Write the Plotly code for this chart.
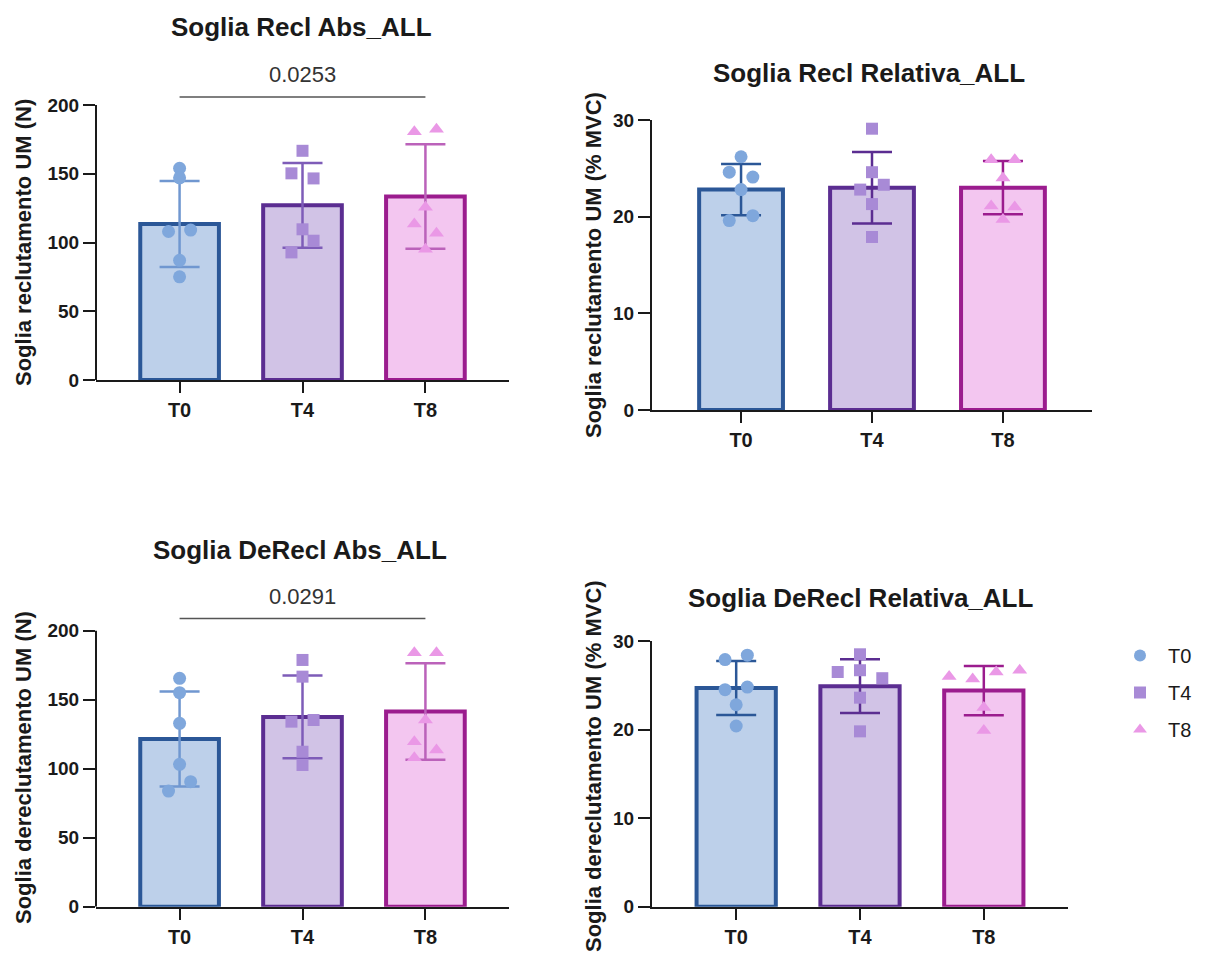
import plotly.graph_objects as go

# ---------------- data ----------------
groups = ["T0", "T4", "T8"]

titles = ["Soglia Recl Abs_ALL", "Soglia Recl Relativa_ALL",
          "Soglia DeRecl Abs_ALL", "Soglia DeRecl Relativa_ALL"]
ytitles = ["Soglia reclutamento UM (N)", "Soglia reclutamento UM (% MVC)",
           "Soglia dereclutamento UM (N)", "Soglia dereclutamento UM (% MVC)"]

# panel 1: Recl Abs
p1_mean = [113.5, 127.0, 133.5]
p1_sd = [31.3, 30.8, 38.0]
p1_T0 = [154, 147, 108, 109, 87, 75]
p1_T4 = [166.7, 150.3, 146.6, 109.6, 101.3, 92.8]
p1_T8 = [180.6, 182.3, 125.6, 113.5, 106.7, 95]
p1_p = "0.0253"

# panel 2: Recl Relativa
p2_mean = [22.8, 23.0, 23.0]
p2_sd = [2.65, 3.7, 2.75]
p2_T0 = [26.2, 24.6, 24.1, 22.8, 19.6, 20.1]
p2_T4 = [29.1, 24.6, 22.8, 23.3, 21.3, 17.9]
p2_T8 = [25.9, 25.9, 24.0, 21.1, 21.0, 19.7]

# panel 3: DeRecl Abs
p3_mean = [121.5, 137.5, 141.5]
p3_sd = [34.4, 30.0, 35.0]
p3_T0 = [165.5, 155.1, 132.9, 103.2, 90.6, 83.8]
p3_T4 = [178.8, 166.7, 134.1, 135.3, 112.3, 102.7]
p3_T8 = [184, 184, 135.3, 119.6, 113.6, 108]
p3_p = "0.0291"

# panel 4: DeRecl Relativa
p4_mean = [24.7, 24.9, 24.4]
p4_sd = [3.05, 3.03, 2.77]
p4_T0 = [27.9, 28.4, 24.5, 24.8, 22.8, 20.4]
p4_T4 = [28.5, 26.5, 26.7, 25.8, 23.6, 19.8]
p4_T8 = [26.0, 25.7, 26.5, 26.7, 22.5, 19.9]

# ---------------- styling / layout ----------------
PAGE_OFF = 8                      # default body margin of the html page
W, H = 1205 - PAGE_OFF, 955 - PAGE_OFF
FONT = "Liberation Sans, Arial, sans-serif"
INK = "#1a1a1a"


def fx(px):
    return (px - PAGE_OFF) / W


def fy(py):
    return 1 - (py - PAGE_OFF) / H


fill_cols = ["#BDD0EA", "#D1C3E6", "#F3C6F0"]
line_cols = ["#2B5797", "#5B2D91", "#9B1C8E"]
pt_cols = ["#7FA7DC", "#A88AD6", "#EA98E6"]
err_light = ["#7097D0", "#7E5CB8", "#BB62BA"]
symbols = ["circle", "square", "triangle-up"]

# horizontal jitter of the scatter points (layout only)
jit = {
    0: [[0, 0, -0.09, 0.09, 0, 0], [0, -0.09, 0.09, 0, 0.09, -0.09], [-0.09, 0.09, 0, -0.09, 0.09, 0]],
    1: [[0, -0.09, 0.09, 0, -0.09, 0.09], [0, 0, -0.09, 0.09, 0, 0], [-0.09, 0.09, 0, -0.09, 0.09, 0]],
    2: [[0, 0, 0, 0, 0.09, -0.09], [0, 0, -0.09, 0.09, 0, 0], [-0.09, 0.09, 0, -0.09, 0.09, -0.09]],
    3: [[-0.09, 0.09, -0.09, 0.09, 0, 0], [0, -0.18, 0, 0.18, 0, 0], [-0.28, -0.09, 0.1, 0.29, 0, 0]],
}

panels = [
    dict(mean=p1_mean, sd=p1_sd, pts=[p1_T0, p1_T4, p1_T8], p=p1_p, ymax=200, yrng=230,
         dtick=50, xd=[96, 509], yd=[380, 63.75], errc=err_light),
    dict(mean=p2_mean, sd=p2_sd, pts=[p2_T0, p2_T4, p2_T8], p=None, ymax=30, yrng=30,
         dtick=10, xd=[652, 1092], yd=[410, 120], errc=line_cols),
    dict(mean=p3_mean, sd=p3_sd, pts=[p3_T0, p3_T4, p3_T8], p=p3_p, ymax=200, yrng=230,
         dtick=50, xd=[96, 509], yd=[906.7, 589.3], errc=err_light),
    dict(mean=p4_mean, sd=p4_sd, pts=[p4_T0, p4_T4, p4_T8], p=None, ymax=30, yrng=30,
         dtick=10, xd=[652, 1068], yd=[906.7, 641], errc=line_cols),
]
title_pos = [(301, 27), (869, 73), (300, 550), (860, 598)]
ytitle_pos = [(23, 243), (593, 265), (23, 768), (593, 766)]
sig_pos = {0: (205.8, 222), 2: (208.8, 224.6)}

fig = go.Figure()
layout = dict(
    width=W, height=H, margin=dict(l=0, r=0, t=0, b=0, autoexpand=False),
    plot_bgcolor="white", paper_bgcolor="white", barmode="overlay",
    font=dict(family=FONT, color=INK),
    showlegend=True,
    legend=dict(x=fx(1112), y=fy(636), xanchor="left", yanchor="top",
                font=dict(family=FONT, size=20, color=INK), itemwidth=46,
                itemsizing="constant", tracegroupgap=8, bgcolor="rgba(0,0,0,0)"),
)
shapes, annotations = [], []

for i, pn in enumerate(panels):
    k = "" if i == 0 else str(i + 1)
    xa, ya = "x" + k, "y" + k
    # bars with SD error bars
    for g in range(3):
        fig.add_trace(go.Bar(
            x=[g], y=[pn["mean"][g]], width=0.64, xaxis=xa, yaxis=ya,
            marker=dict(color=fill_cols[g], line=dict(color=line_cols[g], width=4)),
            error_y=dict(type="data", array=[pn["sd"][g]], visible=True,
                         color=pn["errc"][g], thickness=2.5, width=20),
            showlegend=False, hoverinfo="skip"))
    # individual points
    for g in range(3):
        vals = pn["pts"][g]
        xs = [g + d for d in jit[i][g]]
        fig.add_trace(go.Scatter(
            x=xs, y=vals, mode="markers", xaxis=xa, yaxis=ya,
            marker=dict(symbol=symbols[g], color=pt_cols[g],
                        size=13 if g != 1 else 12, line=dict(width=0)),
            cliponaxis=False, name=groups[g], legendgroup=groups[g],
            showlegend=(i == 0)))

    xd = [fx(pn["xd"][0]), fx(pn["xd"][1])]
    yd = [fy(pn["yd"][0]), fy(pn["yd"][1])]
    layout["xaxis" + k] = dict(
        domain=xd, anchor=ya, range=[-0.68, 2.68], tickvals=[0, 1, 2], ticktext=groups,
        showline=True, linecolor=INK, linewidth=2, ticks="outside", ticklen=11,
        tickwidth=2, tickcolor=INK, showgrid=False, zeroline=False, automargin=False,
        tickfont=dict(family=FONT, size=20, weight="bold", color=INK))
    tv = list(range(0, pn["ymax"] + 1, pn["dtick"]))
    layout["yaxis" + k] = dict(
        domain=yd, anchor=xa, range=[0, pn["yrng"]], tickvals=tv,
        showline=(pn["yrng"] == pn["ymax"]), linecolor=INK, linewidth=2,
        ticks="outside", ticklen=12, tickwidth=2, tickcolor=INK,
        showgrid=False, zeroline=False, automargin=False,
        tickfont=dict(family=FONT, size=19, weight="bold", color=INK))
    if pn["yrng"] != pn["ymax"]:
        shapes.append(dict(type="line", xref=xa + " domain", yref=ya, x0=0, x1=0,
                           y0=0, y1=pn["ymax"], line=dict(color=INK, width=2)))
    if pn["p"]:
        ly, ty = sig_pos[i]
        shapes.append(dict(type="line", xref=xa, yref=ya, x0=0, x1=2, y0=ly, y1=ly,
                           line=dict(color="#555555", width=1.5)))
        annotations.append(dict(xref=xa, yref=ya, x=1, y=ty, text=pn["p"], showarrow=False,
                                xanchor="center", yanchor="middle",
                                font=dict(family=FONT, size=22, color="#333333")))
    tx, ty = title_pos[i]
    annotations.append(dict(xref="paper", yref="paper", x=fx(tx), y=fy(ty),
                            text=titles[i], showarrow=False, xanchor="center", yanchor="middle",
                            font=dict(family=FONT, size=26, weight="bold", color=INK)))
    yx, yy = ytitle_pos[i]
    annotations.append(dict(xref="paper", yref="paper", x=fx(yx), y=fy(yy),
                            text=ytitles[i], showarrow=False, textangle=-90,
                            xanchor="center", yanchor="middle",
                            font=dict(family=FONT, size=22, weight="bold", color=INK)))

layout["shapes"] = shapes
layout["annotations"] = annotations
fig.update_layout(**layout)
fig.write_html("out.html")
